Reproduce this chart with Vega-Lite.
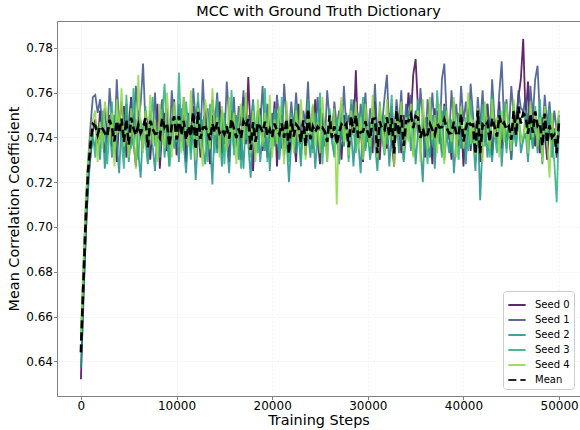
{
  "$schema": "https://vega.github.io/schema/vega-lite/v6.json",
  "width": 523,
  "height": 375,
  "autosize": {"type": "none"},
  "padding": {"left": 57, "top": 21, "right": 0, "bottom": 34},
  "background": "white",
  "title": {"text": "MCC with Ground Truth Dictionary", "fontSize": 14.4, "font": "DejaVu Sans", "fontWeight": "normal", "color": "#000000", "offset": 2, "anchor": "middle"},
  "config": {
    "view": {"stroke": "#808080", "strokeWidth": 1},
    "axis": {"labelFont": "DejaVu Sans", "titleFont": "DejaVu Sans", "labelFontSize": 12, "titleFontSize": 14.4, "titleFontWeight": "normal", "labelColor": "#000000", "titleColor": "#000000", "tickColor": "#808080", "tickSize": 3.5, "domain": false, "grid": true, "gridColor": "#e3e3e3", "gridDash": [2, 2], "gridWidth": 0.8, "gridOpacity": 0.6},
    "legend": {"labelFont": "DejaVu Sans", "labelFontSize": 10, "labelColor": "#000000"}
  },
  "data": {"values": [
{"step":0,"Seed 0":0.632,"Seed 1":0.649,"Seed 2":0.637,"Seed 3":0.650,"Seed 4":0.652,"Mean":0.644},
{"step":250,"Seed 0":0.668,"Seed 1":0.676,"Seed 2":0.664,"Seed 3":0.680,"Seed 4":0.682,"Mean":0.674},
{"step":500,"Seed 0":0.694,"Seed 1":0.705,"Seed 2":0.698,"Seed 3":0.708,"Seed 4":0.712,"Mean":0.703},
{"step":750,"Seed 0":0.722,"Seed 1":0.729,"Seed 2":0.716,"Seed 3":0.727,"Seed 4":0.731,"Mean":0.725},
{"step":1000,"Seed 0":0.731,"Seed 1":0.745,"Seed 2":0.733,"Seed 3":0.738,"Seed 4":0.740,"Mean":0.737},
{"step":1250,"Seed 0":0.743,"Seed 1":0.758,"Seed 2":0.739,"Seed 3":0.742,"Seed 4":0.748,"Mean":0.746},
{"step":1500,"Seed 0":0.748,"Seed 1":0.759,"Seed 2":0.736,"Seed 3":0.731,"Seed 4":0.752,"Mean":0.7452},
{"step":1750,"Seed 0":0.737,"Seed 1":0.751,"Seed 2":0.744,"Seed 3":0.745,"Seed 4":0.729,"Mean":0.7412},
{"step":2000,"Seed 0":0.752,"Seed 1":0.757,"Seed 2":0.730,"Seed 3":0.739,"Seed 4":0.747,"Mean":0.745},
{"step":2250,"Seed 0":0.741,"Seed 1":0.744,"Seed 2":0.748,"Seed 3":0.752,"Seed 4":0.735,"Mean":0.744},
{"step":2500,"Seed 0":0.733,"Seed 1":0.753,"Seed 2":0.726,"Seed 3":0.742,"Seed 4":0.756,"Mean":0.742},
{"step":2750,"Seed 0":0.746,"Seed 1":0.740,"Seed 2":0.739,"Seed 3":0.728,"Seed 4":0.749,"Mean":0.7404},
{"step":3000,"Seed 0":0.750,"Seed 1":0.762,"Seed 2":0.745,"Seed 3":0.744,"Seed 4":0.738,"Mean":0.7478},
{"step":3250,"Seed 0":0.736,"Seed 1":0.748,"Seed 2":0.731,"Seed 3":0.756,"Seed 4":0.751,"Mean":0.7444},
{"step":3500,"Seed 0":0.744,"Seed 1":0.737,"Seed 2":0.750,"Seed 3":0.733,"Seed 4":0.727,"Mean":0.7382},
{"step":3750,"Seed 0":0.729,"Seed 1":0.766,"Seed 2":0.738,"Seed 3":0.747,"Seed 4":0.757,"Mean":0.7474},
{"step":4000,"Seed 0":0.748,"Seed 1":0.745,"Seed 2":0.724,"Seed 3":0.751,"Seed 4":0.742,"Mean":0.742},
{"step":4250,"Seed 0":0.739,"Seed 1":0.756,"Seed 2":0.747,"Seed 3":0.738,"Seed 4":0.762,"Mean":0.7484},
{"step":4500,"Seed 0":0.754,"Seed 1":0.741,"Seed 2":0.733,"Seed 3":0.726,"Seed 4":0.736,"Mean":0.738},
{"step":4750,"Seed 0":0.731,"Seed 1":0.750,"Seed 2":0.755,"Seed 3":0.759,"Seed 4":0.745,"Mean":0.748},
{"step":5000,"Seed 0":0.745,"Seed 1":0.736,"Seed 2":0.729,"Seed 3":0.743,"Seed 4":0.731,"Mean":0.7368},
{"step":5250,"Seed 0":0.758,"Seed 1":0.757,"Seed 2":0.741,"Seed 3":0.735,"Seed 4":0.753,"Mean":0.7488},
{"step":5500,"Seed 0":0.738,"Seed 1":0.744,"Seed 2":0.736,"Seed 3":0.762,"Seed 4":0.740,"Mean":0.744},
{"step":5750,"Seed 0":0.727,"Seed 1":0.763,"Seed 2":0.748,"Seed 3":0.741,"Seed 4":0.726,"Mean":0.741},
{"step":6000,"Seed 0":0.749,"Seed 1":0.748,"Seed 2":0.733,"Seed 3":0.730,"Seed 4":0.768,"Mean":0.7456},
{"step":6250,"Seed 0":0.741,"Seed 1":0.755,"Seed 2":0.722,"Seed 3":0.748,"Seed 4":0.744,"Mean":0.742},
{"step":6500,"Seed 0":0.735,"Seed 1":0.773,"Seed 2":0.745,"Seed 3":0.737,"Seed 4":0.733,"Mean":0.7446},
{"step":6750,"Seed 0":0.752,"Seed 1":0.746,"Seed 2":0.739,"Seed 3":0.754,"Seed 4":0.752,"Mean":0.7486},
{"step":7000,"Seed 0":0.744,"Seed 1":0.739,"Seed 2":0.728,"Seed 3":0.729,"Seed 4":0.738,"Mean":0.7356},
{"step":7250,"Seed 0":0.730,"Seed 1":0.752,"Seed 2":0.750,"Seed 3":0.746,"Seed 4":0.759,"Mean":0.7474},
{"step":7500,"Seed 0":0.747,"Seed 1":0.741,"Seed 2":0.736,"Seed 3":0.758,"Seed 4":0.737,"Mean":0.7438},
{"step":7750,"Seed 0":0.739,"Seed 1":0.760,"Seed 2":0.725,"Seed 3":0.736,"Seed 4":0.748,"Mean":0.7416},
{"step":8000,"Seed 0":0.755,"Seed 1":0.738,"Seed 2":0.744,"Seed 3":0.743,"Seed 4":0.729,"Mean":0.7418},
{"step":8250,"Seed 0":0.726,"Seed 1":0.749,"Seed 2":0.738,"Seed 3":0.731,"Seed 4":0.755,"Mean":0.7398},
{"step":8500,"Seed 0":0.743,"Seed 1":0.757,"Seed 2":0.752,"Seed 3":0.750,"Seed 4":0.741,"Mean":0.7486},
{"step":8750,"Seed 0":0.751,"Seed 1":0.742,"Seed 2":0.731,"Seed 3":0.764,"Seed 4":0.735,"Mean":0.7446},
{"step":9000,"Seed 0":0.734,"Seed 1":0.753,"Seed 2":0.746,"Seed 3":0.739,"Seed 4":0.760,"Mean":0.7464},
{"step":9250,"Seed 0":0.746,"Seed 1":0.736,"Seed 2":0.727,"Seed 3":0.727,"Seed 4":0.744,"Mean":0.736},
{"step":9500,"Seed 0":0.740,"Seed 1":0.761,"Seed 2":0.749,"Seed 3":0.745,"Seed 4":0.731,"Mean":0.7452},
{"step":9750,"Seed 0":0.757,"Seed 1":0.747,"Seed 2":0.735,"Seed 3":0.752,"Seed 4":0.756,"Mean":0.7494},
{"step":10000,"Seed 0":0.732,"Seed 1":0.744,"Seed 2":0.742,"Seed 3":0.738,"Seed 4":0.739,"Mean":0.739},
{"step":10250,"Seed 0":0.745,"Seed 1":0.755,"Seed 2":0.729,"Seed 3":0.769,"Seed 4":0.750,"Mean":0.7496},
{"step":10500,"Seed 0":0.738,"Seed 1":0.740,"Seed 2":0.753,"Seed 3":0.741,"Seed 4":0.733,"Mean":0.741},
{"step":10750,"Seed 0":0.750,"Seed 1":0.758,"Seed 2":0.737,"Seed 3":0.734,"Seed 4":0.758,"Mean":0.7474},
{"step":11000,"Seed 0":0.729,"Seed 1":0.743,"Seed 2":0.724,"Seed 3":0.756,"Seed 4":0.742,"Mean":0.7388},
{"step":11250,"Seed 0":0.747,"Seed 1":0.751,"Seed 2":0.747,"Seed 3":0.744,"Seed 4":0.736,"Mean":0.745},
{"step":11500,"Seed 0":0.742,"Seed 1":0.737,"Seed 2":0.733,"Seed 3":0.730,"Seed 4":0.761,"Mean":0.7406},
{"step":11750,"Seed 0":0.754,"Seed 1":0.762,"Seed 2":0.744,"Seed 3":0.751,"Seed 4":0.745,"Mean":0.7512},
{"step":12000,"Seed 0":0.736,"Seed 1":0.748,"Seed 2":0.721,"Seed 3":0.738,"Seed 4":0.730,"Mean":0.7346},
{"step":12250,"Seed 0":0.748,"Seed 1":0.756,"Seed 2":0.740,"Seed 3":0.760,"Seed 4":0.753,"Mean":0.7514},
{"step":12500,"Seed 0":0.731,"Seed 1":0.741,"Seed 2":0.751,"Seed 3":0.735,"Seed 4":0.739,"Mean":0.7394},
{"step":12750,"Seed 0":0.745,"Seed 1":0.766,"Seed 2":0.736,"Seed 3":0.748,"Seed 4":0.727,"Mean":0.7444},
{"step":13000,"Seed 0":0.752,"Seed 1":0.744,"Seed 2":0.728,"Seed 3":0.742,"Seed 4":0.757,"Mean":0.7446},
{"step":13250,"Seed 0":0.739,"Seed 1":0.753,"Seed 2":0.745,"Seed 3":0.729,"Seed 4":0.748,"Mean":0.7428},
{"step":13500,"Seed 0":0.728,"Seed 1":0.738,"Seed 2":0.738,"Seed 3":0.755,"Seed 4":0.735,"Mean":0.7388},
{"step":13750,"Seed 0":0.750,"Seed 1":0.757,"Seed 2":0.719,"Seed 3":0.743,"Seed 4":0.762,"Mean":0.7462},
{"step":14000,"Seed 0":0.743,"Seed 1":0.746,"Seed 2":0.748,"Seed 3":0.733,"Seed 4":0.741,"Mean":0.7422},
{"step":14250,"Seed 0":0.735,"Seed 1":0.760,"Seed 2":0.733,"Seed 3":0.757,"Seed 4":0.749,"Mean":0.7468},
{"step":14500,"Seed 0":0.756,"Seed 1":0.741,"Seed 2":0.742,"Seed 3":0.740,"Seed 4":0.731,"Mean":0.742},
{"step":14750,"Seed 0":0.733,"Seed 1":0.752,"Seed 2":0.727,"Seed 3":0.752,"Seed 4":0.754,"Mean":0.7436},
{"step":15000,"Seed 0":0.747,"Seed 1":0.737,"Seed 2":0.751,"Seed 3":0.728,"Seed 4":0.744,"Mean":0.7414},
{"step":15250,"Seed 0":0.741,"Seed 1":0.765,"Seed 2":0.739,"Seed 3":0.746,"Seed 4":0.734,"Mean":0.745},
{"step":15500,"Seed 0":0.729,"Seed 1":0.749,"Seed 2":0.724,"Seed 3":0.737,"Seed 4":0.758,"Mean":0.7394},
{"step":15750,"Seed 0":0.752,"Seed 1":0.743,"Seed 2":0.746,"Seed 3":0.761,"Seed 4":0.739,"Mean":0.7482},
{"step":16000,"Seed 0":0.744,"Seed 1":0.758,"Seed 2":0.735,"Seed 3":0.732,"Seed 4":0.751,"Mean":0.744},
{"step":16250,"Seed 0":0.736,"Seed 1":0.736,"Seed 2":0.750,"Seed 3":0.749,"Seed 4":0.728,"Mean":0.7398},
{"step":16500,"Seed 0":0.749,"Seed 1":0.754,"Seed 2":0.730,"Seed 3":0.741,"Seed 4":0.746,"Mean":0.744},
{"step":16750,"Seed 0":0.730,"Seed 1":0.745,"Seed 2":0.743,"Seed 3":0.726,"Seed 4":0.755,"Mean":0.7398},
{"step":17000,"Seed 0":0.758,"Seed 1":0.761,"Seed 2":0.726,"Seed 3":0.754,"Seed 4":0.737,"Mean":0.7472},
{"step":17250,"Seed 0":0.737,"Seed 1":0.739,"Seed 2":0.748,"Seed 3":0.739,"Seed 4":0.760,"Mean":0.7446},
{"step":17500,"Seed 0":0.767,"Seed 1":0.750,"Seed 2":0.737,"Seed 3":0.745,"Seed 4":0.742,"Mean":0.7482},
{"step":17750,"Seed 0":0.742,"Seed 1":0.744,"Seed 2":0.722,"Seed 3":0.731,"Seed 4":0.733,"Mean":0.7344},
{"step":18000,"Seed 0":0.725,"Seed 1":0.757,"Seed 2":0.744,"Seed 3":0.756,"Seed 4":0.752,"Mean":0.7468},
{"step":18250,"Seed 0":0.746,"Seed 1":0.733,"Seed 2":0.738,"Seed 3":0.744,"Seed 4":0.729,"Mean":0.738},
{"step":18500,"Seed 0":0.739,"Seed 1":0.752,"Seed 2":0.752,"Seed 3":0.733,"Seed 4":0.757,"Mean":0.7466},
{"step":18750,"Seed 0":0.753,"Seed 1":0.746,"Seed 2":0.729,"Seed 3":0.750,"Seed 4":0.745,"Mean":0.7446},
{"step":19000,"Seed 0":0.734,"Seed 1":0.763,"Seed 2":0.741,"Seed 3":0.738,"Seed 4":0.736,"Mean":0.7424},
{"step":19250,"Seed 0":0.748,"Seed 1":0.740,"Seed 2":0.734,"Seed 3":0.762,"Seed 4":0.751,"Mean":0.747},
{"step":19500,"Seed 0":0.731,"Seed 1":0.755,"Seed 2":0.749,"Seed 3":0.729,"Seed 4":0.740,"Mean":0.7408},
{"step":19750,"Seed 0":0.745,"Seed 1":0.742,"Seed 2":0.725,"Seed 3":0.747,"Seed 4":0.759,"Mean":0.7436},
{"step":20000,"Seed 0":0.740,"Seed 1":0.751,"Seed 2":0.743,"Seed 3":0.735,"Seed 4":0.731,"Mean":0.74},
{"step":20250,"Seed 0":0.756,"Seed 1":0.738,"Seed 2":0.736,"Seed 3":0.753,"Seed 4":0.748,"Mean":0.7462},
{"step":20500,"Seed 0":0.727,"Seed 1":0.759,"Seed 2":0.751,"Seed 3":0.741,"Seed 4":0.737,"Mean":0.743},
{"step":20750,"Seed 0":0.744,"Seed 1":0.747,"Seed 2":0.730,"Seed 3":0.732,"Seed 4":0.754,"Mean":0.7414},
{"step":21000,"Seed 0":0.750,"Seed 1":0.735,"Seed 2":0.745,"Seed 3":0.758,"Seed 4":0.743,"Mean":0.7462},
{"step":21250,"Seed 0":0.736,"Seed 1":0.764,"Seed 2":0.732,"Seed 3":0.739,"Seed 4":0.728,"Mean":0.7398},
{"step":21500,"Seed 0":0.752,"Seed 1":0.748,"Seed 2":0.740,"Seed 3":0.745,"Seed 4":0.756,"Mean":0.7482},
{"step":21750,"Seed 0":0.733,"Seed 1":0.741,"Seed 2":0.720,"Seed 3":0.729,"Seed 4":0.741,"Mean":0.7328},
{"step":22000,"Seed 0":0.747,"Seed 1":0.756,"Seed 2":0.738,"Seed 3":0.751,"Seed 4":0.749,"Mean":0.7482},
{"step":22250,"Seed 0":0.740,"Seed 1":0.743,"Seed 2":0.749,"Seed 3":0.737,"Seed 4":0.733,"Mean":0.7404},
{"step":22500,"Seed 0":0.729,"Seed 1":0.760,"Seed 2":0.733,"Seed 3":0.755,"Seed 4":0.752,"Mean":0.7458},
{"step":22750,"Seed 0":0.755,"Seed 1":0.744,"Seed 2":0.744,"Seed 3":0.741,"Seed 4":0.738,"Mean":0.7444},
{"step":23000,"Seed 0":0.738,"Seed 1":0.737,"Seed 2":0.727,"Seed 3":0.730,"Seed 4":0.757,"Mean":0.7378},
{"step":23250,"Seed 0":0.746,"Seed 1":0.752,"Seed 2":0.748,"Seed 3":0.748,"Seed 4":0.744,"Mean":0.7476},
{"step":23500,"Seed 0":0.732,"Seed 1":0.746,"Seed 2":0.736,"Seed 3":0.736,"Seed 4":0.730,"Mean":0.736},
{"step":23750,"Seed 0":0.749,"Seed 1":0.765,"Seed 2":0.742,"Seed 3":0.757,"Seed 4":0.751,"Mean":0.7528},
{"step":24000,"Seed 0":0.743,"Seed 1":0.739,"Seed 2":0.731,"Seed 3":0.744,"Seed 4":0.739,"Mean":0.7392},
{"step":24250,"Seed 0":0.735,"Seed 1":0.754,"Seed 2":0.747,"Seed 3":0.733,"Seed 4":0.755,"Mean":0.7448},
{"step":24500,"Seed 0":0.757,"Seed 1":0.742,"Seed 2":0.726,"Seed 3":0.751,"Seed 4":0.736,"Mean":0.7424},
{"step":24750,"Seed 0":0.740,"Seed 1":0.758,"Seed 2":0.740,"Seed 3":0.739,"Seed 4":0.747,"Mean":0.7448},
{"step":25000,"Seed 0":0.728,"Seed 1":0.743,"Seed 2":0.753,"Seed 3":0.760,"Seed 4":0.733,"Mean":0.7434},
{"step":25250,"Seed 0":0.751,"Seed 1":0.750,"Seed 2":0.735,"Seed 3":0.728,"Seed 4":0.758,"Mean":0.7444},
{"step":25500,"Seed 0":0.744,"Seed 1":0.736,"Seed 2":0.745,"Seed 3":0.746,"Seed 4":0.742,"Mean":0.7426},
{"step":25750,"Seed 0":0.734,"Seed 1":0.761,"Seed 2":0.729,"Seed 3":0.737,"Seed 4":0.729,"Mean":0.738},
{"step":26000,"Seed 0":0.748,"Seed 1":0.748,"Seed 2":0.750,"Seed 3":0.753,"Seed 4":0.750,"Mean":0.7498},
{"step":26250,"Seed 0":0.739,"Seed 1":0.740,"Seed 2":0.738,"Seed 3":0.742,"Seed 4":0.740,"Mean":0.7398},
{"step":26500,"Seed 0":0.753,"Seed 1":0.756,"Seed 2":0.732,"Seed 3":0.731,"Seed 4":0.753,"Mean":0.745},
{"step":26750,"Seed 0":0.737,"Seed 1":0.745,"Seed 2":0.744,"Seed 3":0.749,"Seed 4":0.710,"Mean":0.737},
{"step":27000,"Seed 0":0.745,"Seed 1":0.752,"Seed 2":0.728,"Seed 3":0.740,"Seed 4":0.747,"Mean":0.7424},
{"step":27250,"Seed 0":0.730,"Seed 1":0.739,"Seed 2":0.747,"Seed 3":0.755,"Seed 4":0.758,"Mean":0.7458},
{"step":27500,"Seed 0":0.750,"Seed 1":0.763,"Seed 2":0.736,"Seed 3":0.736,"Seed 4":0.738,"Mean":0.7446},
{"step":27750,"Seed 0":0.742,"Seed 1":0.744,"Seed 2":0.751,"Seed 3":0.748,"Seed 4":0.745,"Mean":0.746},
{"step":28000,"Seed 0":0.736,"Seed 1":0.750,"Seed 2":0.731,"Seed 3":0.729,"Seed 4":0.732,"Mean":0.7356},
{"step":28250,"Seed 0":0.755,"Seed 1":0.741,"Seed 2":0.743,"Seed 3":0.757,"Seed 4":0.752,"Mean":0.7496},
{"step":28500,"Seed 0":0.741,"Seed 1":0.757,"Seed 2":0.727,"Seed 3":0.744,"Seed 4":0.741,"Mean":0.742},
{"step":28750,"Seed 0":0.770,"Seed 1":0.745,"Seed 2":0.746,"Seed 3":0.733,"Seed 4":0.756,"Mean":0.75},
{"step":29000,"Seed 0":0.737,"Seed 1":0.738,"Seed 2":0.738,"Seed 3":0.751,"Seed 4":0.735,"Mean":0.7398},
{"step":29250,"Seed 0":0.744,"Seed 1":0.755,"Seed 2":0.724,"Seed 3":0.740,"Seed 4":0.749,"Mean":0.7424},
{"step":29500,"Seed 0":0.729,"Seed 1":0.747,"Seed 2":0.749,"Seed 3":0.758,"Seed 4":0.730,"Mean":0.7426},
{"step":29750,"Seed 0":0.752,"Seed 1":0.760,"Seed 2":0.735,"Seed 3":0.734,"Seed 4":0.755,"Mean":0.7472},
{"step":30000,"Seed 0":0.738,"Seed 1":0.740,"Seed 2":0.742,"Seed 3":0.747,"Seed 4":0.743,"Mean":0.742},
{"step":30250,"Seed 0":0.747,"Seed 1":0.753,"Seed 2":0.730,"Seed 3":0.731,"Seed 4":0.736,"Mean":0.7394},
{"step":30500,"Seed 0":0.733,"Seed 1":0.744,"Seed 2":0.753,"Seed 3":0.752,"Seed 4":0.759,"Mean":0.7482},
{"step":30750,"Seed 0":0.756,"Seed 1":0.764,"Seed 2":0.737,"Seed 3":0.743,"Seed 4":0.742,"Mean":0.7484},
{"step":31000,"Seed 0":0.741,"Seed 1":0.739,"Seed 2":0.725,"Seed 3":0.729,"Seed 4":0.731,"Mean":0.733},
{"step":31250,"Seed 0":0.730,"Seed 1":0.751,"Seed 2":0.745,"Seed 3":0.756,"Seed 4":0.754,"Mean":0.7472},
{"step":31500,"Seed 0":0.749,"Seed 1":0.746,"Seed 2":0.740,"Seed 3":0.738,"Seed 4":0.745,"Mean":0.7436},
{"step":31750,"Seed 0":0.743,"Seed 1":0.758,"Seed 2":0.732,"Seed 3":0.750,"Seed 4":0.733,"Mean":0.7432},
{"step":32000,"Seed 0":0.735,"Seed 1":0.768,"Seed 2":0.748,"Seed 3":0.737,"Seed 4":0.757,"Mean":0.749},
{"step":32250,"Seed 0":0.751,"Seed 1":0.742,"Seed 2":0.727,"Seed 3":0.745,"Seed 4":0.739,"Mean":0.7408},
{"step":32500,"Seed 0":0.738,"Seed 1":0.754,"Seed 2":0.744,"Seed 3":0.759,"Seed 4":0.748,"Mean":0.7486},
{"step":32750,"Seed 0":0.727,"Seed 1":0.740,"Seed 2":0.738,"Seed 3":0.732,"Seed 4":0.727,"Mean":0.7328},
{"step":33000,"Seed 0":0.754,"Seed 1":0.757,"Seed 2":0.751,"Seed 3":0.747,"Seed 4":0.752,"Mean":0.7522},
{"step":33250,"Seed 0":0.744,"Seed 1":0.745,"Seed 2":0.733,"Seed 3":0.741,"Seed 4":0.741,"Mean":0.7408},
{"step":33500,"Seed 0":0.733,"Seed 1":0.761,"Seed 2":0.746,"Seed 3":0.754,"Seed 4":0.756,"Mean":0.75},
{"step":33750,"Seed 0":0.750,"Seed 1":0.738,"Seed 2":0.729,"Seed 3":0.730,"Seed 4":0.734,"Mean":0.7362},
{"step":34000,"Seed 0":0.742,"Seed 1":0.755,"Seed 2":0.741,"Seed 3":0.749,"Seed 4":0.749,"Mean":0.7472},
{"step":34250,"Seed 0":0.760,"Seed 1":0.747,"Seed 2":0.752,"Seed 3":0.739,"Seed 4":0.738,"Mean":0.7472},
{"step":34500,"Seed 0":0.748,"Seed 1":0.759,"Seed 2":0.734,"Seed 3":0.755,"Seed 4":0.755,"Mean":0.7502},
{"step":34750,"Seed 0":0.768,"Seed 1":0.743,"Seed 2":0.747,"Seed 3":0.732,"Seed 4":0.731,"Mean":0.7442},
{"step":35000,"Seed 0":0.775,"Seed 1":0.752,"Seed 2":0.728,"Seed 3":0.746,"Seed 4":0.746,"Mean":0.7494},
{"step":35250,"Seed 0":0.752,"Seed 1":0.740,"Seed 2":0.743,"Seed 3":0.757,"Seed 4":0.752,"Mean":0.7488},
{"step":35500,"Seed 0":0.737,"Seed 1":0.762,"Seed 2":0.736,"Seed 3":0.735,"Seed 4":0.729,"Mean":0.7398},
{"step":35750,"Seed 0":0.746,"Seed 1":0.748,"Seed 2":0.720,"Seed 3":0.750,"Seed 4":0.757,"Mean":0.7442},
{"step":36000,"Seed 0":0.731,"Seed 1":0.735,"Seed 2":0.749,"Seed 3":0.741,"Seed 4":0.743,"Mean":0.7398},
{"step":36250,"Seed 0":0.749,"Seed 1":0.757,"Seed 2":0.738,"Seed 3":0.728,"Seed 4":0.735,"Mean":0.7414},
{"step":36500,"Seed 0":0.743,"Seed 1":0.745,"Seed 2":0.731,"Seed 3":0.753,"Seed 4":0.758,"Mean":0.746},
{"step":36750,"Seed 0":0.728,"Seed 1":0.760,"Seed 2":0.750,"Seed 3":0.740,"Seed 4":0.739,"Mean":0.7434},
{"step":37000,"Seed 0":0.753,"Seed 1":0.743,"Seed 2":0.726,"Seed 3":0.734,"Seed 4":0.750,"Mean":0.7412},
{"step":37250,"Seed 0":0.740,"Seed 1":0.752,"Seed 2":0.745,"Seed 3":0.761,"Seed 4":0.733,"Mean":0.7462},
{"step":37500,"Seed 0":0.747,"Seed 1":0.738,"Seed 2":0.737,"Seed 3":0.745,"Seed 4":0.755,"Mean":0.7444},
{"step":37750,"Seed 0":0.733,"Seed 1":0.766,"Seed 2":0.752,"Seed 3":0.731,"Seed 4":0.741,"Mean":0.7446},
{"step":38000,"Seed 0":0.755,"Seed 1":0.773,"Seed 2":0.730,"Seed 3":0.754,"Seed 4":0.728,"Mean":0.748},
{"step":38250,"Seed 0":0.739,"Seed 1":0.749,"Seed 2":0.742,"Seed 3":0.739,"Seed 4":0.752,"Mean":0.7442},
{"step":38500,"Seed 0":0.744,"Seed 1":0.739,"Seed 2":0.733,"Seed 3":0.748,"Seed 4":0.745,"Mean":0.7418},
{"step":38750,"Seed 0":0.730,"Seed 1":0.761,"Seed 2":0.748,"Seed 3":0.733,"Seed 4":0.738,"Mean":0.742},
{"step":39000,"Seed 0":0.752,"Seed 1":0.745,"Seed 2":0.724,"Seed 3":0.756,"Seed 4":0.758,"Mean":0.747},
{"step":39250,"Seed 0":0.741,"Seed 1":0.755,"Seed 2":0.739,"Seed 3":0.741,"Seed 4":0.731,"Mean":0.7414},
{"step":39500,"Seed 0":0.736,"Seed 1":0.740,"Seed 2":0.751,"Seed 3":0.730,"Seed 4":0.747,"Mean":0.7408},
{"step":39750,"Seed 0":0.749,"Seed 1":0.763,"Seed 2":0.735,"Seed 3":0.752,"Seed 4":0.754,"Mean":0.7506},
{"step":40000,"Seed 0":0.727,"Seed 1":0.747,"Seed 2":0.744,"Seed 3":0.738,"Seed 4":0.735,"Mean":0.7382},
{"step":40250,"Seed 0":0.745,"Seed 1":0.756,"Seed 2":0.728,"Seed 3":0.749,"Seed 4":0.743,"Mean":0.7442},
{"step":40500,"Seed 0":0.753,"Seed 1":0.741,"Seed 2":0.749,"Seed 3":0.734,"Seed 4":0.760,"Mean":0.7474},
{"step":40750,"Seed 0":0.734,"Seed 1":0.764,"Seed 2":0.736,"Seed 3":0.757,"Seed 4":0.737,"Mean":0.7456},
{"step":41000,"Seed 0":0.747,"Seed 1":0.750,"Seed 2":0.741,"Seed 3":0.743,"Seed 4":0.748,"Mean":0.7458},
{"step":41250,"Seed 0":0.740,"Seed 1":0.737,"Seed 2":0.725,"Seed 3":0.729,"Seed 4":0.732,"Mean":0.7326},
{"step":41500,"Seed 0":0.751,"Seed 1":0.758,"Seed 2":0.747,"Seed 3":0.751,"Seed 4":0.753,"Mean":0.752},
{"step":41750,"Seed 0":0.729,"Seed 1":0.745,"Seed 2":0.712,"Seed 3":0.738,"Seed 4":0.741,"Mean":0.733},
{"step":42000,"Seed 0":0.746,"Seed 1":0.761,"Seed 2":0.738,"Seed 3":0.755,"Seed 4":0.729,"Mean":0.7458},
{"step":42250,"Seed 0":0.738,"Seed 1":0.743,"Seed 2":0.750,"Seed 3":0.736,"Seed 4":0.756,"Mean":0.7446},
{"step":42500,"Seed 0":0.755,"Seed 1":0.755,"Seed 2":0.731,"Seed 3":0.748,"Seed 4":0.744,"Mean":0.7466},
{"step":42750,"Seed 0":0.743,"Seed 1":0.739,"Seed 2":0.743,"Seed 3":0.731,"Seed 4":0.735,"Mean":0.7382},
{"step":43000,"Seed 0":0.732,"Seed 1":0.766,"Seed 2":0.729,"Seed 3":0.759,"Seed 4":0.757,"Mean":0.7486},
{"step":43250,"Seed 0":0.748,"Seed 1":0.748,"Seed 2":0.746,"Seed 3":0.742,"Seed 4":0.740,"Mean":0.7448},
{"step":43500,"Seed 0":0.741,"Seed 1":0.742,"Seed 2":0.737,"Seed 3":0.733,"Seed 4":0.749,"Mean":0.7404},
{"step":43750,"Seed 0":0.756,"Seed 1":0.760,"Seed 2":0.752,"Seed 3":0.750,"Seed 4":0.731,"Mean":0.7498},
{"step":44000,"Seed 0":0.735,"Seed 1":0.774,"Seed 2":0.727,"Seed 3":0.739,"Seed 4":0.752,"Mean":0.7454},
{"step":44250,"Seed 0":0.749,"Seed 1":0.746,"Seed 2":0.744,"Seed 3":0.756,"Seed 4":0.738,"Mean":0.7466},
{"step":44500,"Seed 0":0.738,"Seed 1":0.757,"Seed 2":0.735,"Seed 3":0.733,"Seed 4":0.755,"Mean":0.7436},
{"step":44750,"Seed 0":0.744,"Seed 1":0.742,"Seed 2":0.749,"Seed 3":0.747,"Seed 4":0.743,"Mean":0.745},
{"step":45000,"Seed 0":0.730,"Seed 1":0.763,"Seed 2":0.730,"Seed 3":0.738,"Seed 4":0.734,"Mean":0.739},
{"step":45250,"Seed 0":0.753,"Seed 1":0.750,"Seed 2":0.744,"Seed 3":0.755,"Seed 4":0.757,"Mean":0.7518},
{"step":45500,"Seed 0":0.747,"Seed 1":0.744,"Seed 2":0.736,"Seed 3":0.736,"Seed 4":0.742,"Mean":0.741},
{"step":45750,"Seed 0":0.758,"Seed 1":0.761,"Seed 2":0.751,"Seed 3":0.749,"Seed 4":0.750,"Mean":0.7538},
{"step":46000,"Seed 0":0.766,"Seed 1":0.753,"Seed 2":0.733,"Seed 3":0.741,"Seed 4":0.738,"Mean":0.7462},
{"step":46250,"Seed 0":0.784,"Seed 1":0.752,"Seed 2":0.739,"Seed 3":0.738,"Seed 4":0.741,"Mean":0.7508},
{"step":46500,"Seed 0":0.748,"Seed 1":0.758,"Seed 2":0.742,"Seed 3":0.752,"Seed 4":0.747,"Mean":0.7494},
{"step":46750,"Seed 0":0.765,"Seed 1":0.744,"Seed 2":0.729,"Seed 3":0.737,"Seed 4":0.733,"Mean":0.7416},
{"step":47000,"Seed 0":0.739,"Seed 1":0.763,"Seed 2":0.746,"Seed 3":0.749,"Seed 4":0.756,"Mean":0.7506},
{"step":47250,"Seed 0":0.751,"Seed 1":0.749,"Seed 2":0.735,"Seed 3":0.735,"Seed 4":0.740,"Mean":0.742},
{"step":47500,"Seed 0":0.736,"Seed 1":0.766,"Seed 2":0.750,"Seed 3":0.754,"Seed 4":0.752,"Mean":0.7516},
{"step":47750,"Seed 0":0.745,"Seed 1":0.772,"Seed 2":0.733,"Seed 3":0.740,"Seed 4":0.736,"Mean":0.7452},
{"step":48000,"Seed 0":0.733,"Seed 1":0.748,"Seed 2":0.745,"Seed 3":0.757,"Seed 4":0.749,"Mean":0.7464},
{"step":48250,"Seed 0":0.749,"Seed 1":0.741,"Seed 2":0.728,"Seed 3":0.734,"Seed 4":0.729,"Mean":0.7362},
{"step":48500,"Seed 0":0.742,"Seed 1":0.759,"Seed 2":0.747,"Seed 3":0.751,"Seed 4":0.754,"Mean":0.7506},
{"step":48750,"Seed 0":0.730,"Seed 1":0.745,"Seed 2":0.737,"Seed 3":0.738,"Seed 4":0.738,"Mean":0.7376},
{"step":49000,"Seed 0":0.747,"Seed 1":0.756,"Seed 2":0.749,"Seed 3":0.753,"Seed 4":0.722,"Mean":0.7454},
{"step":49250,"Seed 0":0.738,"Seed 1":0.740,"Seed 2":0.731,"Seed 3":0.740,"Seed 4":0.751,"Mean":0.74},
{"step":49500,"Seed 0":0.744,"Seed 1":0.752,"Seed 2":0.744,"Seed 3":0.729,"Seed 4":0.737,"Mean":0.7412},
{"step":49750,"Seed 0":0.731,"Seed 1":0.743,"Seed 2":0.735,"Seed 3":0.711,"Seed 4":0.745,"Mean":0.733},
{"step":50000,"Seed 0":0.746,"Seed 1":0.750,"Seed 2":0.742,"Seed 3":0.748,"Seed 4":0.752,"Mean":0.7476}
  ]},
  "transform": [
    {"fold": ["Seed 0", "Seed 1", "Seed 2", "Seed 3", "Seed 4", "Mean"], "as": ["series", "value"]}
  ],
  "encoding": {
    "x": {"field": "step", "type": "quantitative", "scale": {"domain": [-2500, 52186], "nice": false, "zero": false},
      "axis": {"values": [0, 10000, 20000, 30000, 40000, 50000], "format": "d", "title": "Training Steps", "labelPadding": 1, "titlePadding": 2}},
    "y": {"field": "value", "type": "quantitative", "scale": {"domain": [0.6245, 0.792], "nice": false, "zero": false},
      "axis": {"values": [0.64, 0.66, 0.68, 0.70, 0.72, 0.74, 0.76, 0.78], "format": ".2f", "title": "Mean Correlation Coefficient", "labelPadding": 1, "titlePadding": 4}},
    "color": {"field": "series", "type": "nominal",
      "scale": {"domain": ["Seed 0", "Seed 1", "Seed 2", "Seed 3", "Seed 4", "Mean"], "range": ["#440154", "#3b528b", "#21918c", "#2ab07f", "#8fd744", "#000000"]},
      "legend": {"title": null, "orient": "none", "legendX": 446, "legendY": 270, "symbolType": "stroke", "symbolSize": 300, "symbolStrokeWidth": 2, "symbolOpacity": 0.85, "fillColor": "rgba(255,255,255,0.85)", "strokeColor": "#cccccc", "cornerRadius": 3, "padding": 4, "rowPadding": -2, "labelOffset": 8}},
    "strokeDash": {"field": "series", "type": "nominal",
      "scale": {"domain": ["Seed 0", "Seed 1", "Seed 2", "Seed 3", "Seed 4", "Mean"], "range": [[1, 0], [1, 0], [1, 0], [1, 0], [1, 0], [8, 4]]}}
  },
  "layer": [
    {"transform": [{"filter": "datum.series !== 'Mean'"}], "mark": {"type": "line", "strokeWidth": 1.8, "opacity": 0.85}},
    {"transform": [{"filter": "datum.series === 'Mean'"}], "mark": {"type": "line", "strokeWidth": 2.6}}
  ]
}
